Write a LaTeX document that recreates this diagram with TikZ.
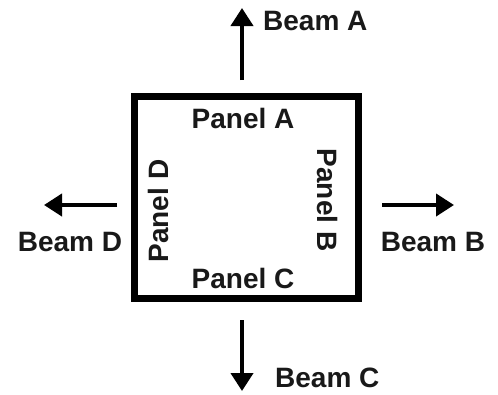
\documentclass[tikz,border=0pt]{standalone}
\usepackage{fontspec}
\setmainfont{Liberation Sans}
\usetikzlibrary{arrows.meta}
\tikzset{
  lbl/.style={font=\bfseries\fontsize{28}{30}\selectfont, inner sep=0pt, text=black!90},
  beam/.style={line width=4pt, -{Triangle[width=22pt,length=18pt]}},
  frame/.style={draw, line width=7pt, minimum width=224pt, minimum height=202pt, inner sep=0pt}
}
\begin{document}
\begin{tikzpicture}[x=1pt,y=-1pt]
\useasboundingbox[fill=white] (0,0) rectangle (498,394);
\node[frame] (box) at (246,197) {};
% panel labels
\node[lbl] (pA) at (243,118) {Panel A};
\node[lbl] (pC) at (243,278) {Panel C};
\node[lbl, rotate=90] (pD) at (158,211) {Panel D};
\node[lbl, rotate=-90] (pB) at (328,200) {Panel B};
% beam arrows
\coordinate (a0) at (242,80);  \coordinate (a1) at (242,8);
\coordinate (b0) at (382,205); \coordinate (b1) at (454,205);
\coordinate (c0) at (242,320); \coordinate (c1) at (242,391);
\coordinate (d0) at (117,205); \coordinate (d1) at (44,205);
\draw[beam] (a0) -- (a1);
\draw[beam] (b0) -- (b1);
\draw[beam] (c0) -- (c1);
\draw[beam] (d0) -- (d1);
% beam labels
\node[lbl, anchor=west] (bA) at (263,21) {Beam A};
\node[lbl] (bB) at (433,242) {Beam B};
\node[lbl, anchor=west] (bC) at (275,378) {Beam C};
\node[lbl] (bD) at (70,242) {Beam D};
\end{tikzpicture}
\end{document}
